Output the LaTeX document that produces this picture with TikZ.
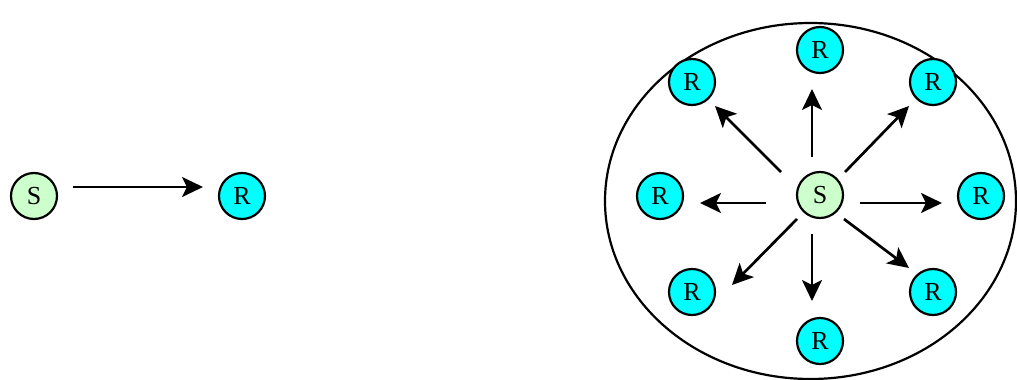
\documentclass[tikz,border=0pt]{standalone}
\usepackage{fontspec}
\setmainfont{Liberation Serif}
\usetikzlibrary{arrows.meta,shapes.geometric}
\definecolor{sgreen}{HTML}{CCFFCC}
\definecolor{rcyan}{HTML}{00FFFF}
\begin{document}
\begin{tikzpicture}[x=1pt,y=-1pt,
  station/.style={circle,draw=black,line width=2.2pt,minimum size=46pt,inner sep=0pt,font=\fontsize{26}{26}\selectfont},
  sender/.style={station,fill=sgreen},
  receiver/.style={station,fill=rcyan},
  link/.style={line width=2.7pt,-{Stealth[length=21pt,width=20pt,inset=5pt]}}]
\useasboundingbox (0,0) rectangle (1017,380);
% left pair
\node[sender] (S1) at (34,196) {S};
\node[receiver] (R1) at (242,196) {R};
\coordinate (a1) at (73,187);
\coordinate (b1) at (203,187);
\draw[link] (a1) -- (b1);
% broadcast
\node[draw,ellipse,line width=2.2pt,minimum width=411pt,minimum height=356pt,inner sep=0pt] (E) at (810.5,201) {};
\node[sender] (S) at (820,195) {S};
\node[receiver] (Rn) at (820,50) {R};
\node[receiver] (Rnw) at (692,82) {R};
\node[receiver] (Rne) at (933,82) {R};
\node[receiver] (Rw) at (660,196) {R};
\node[receiver] (Re) at (981,196) {R};
\node[receiver] (Rsw) at (692,292) {R};
\node[receiver] (Rse) at (933,292) {R};
\node[receiver] (Rs) at (820,341) {R};
% arrow ends
\coordinate (n0) at (812,157); \coordinate (n1) at (812,89);
\coordinate (nw0) at (781,172); \coordinate (nw1) at (715,106);
\coordinate (ne0) at (845,172); \coordinate (ne1) at (909,106);
\coordinate (w0) at (766,203); \coordinate (w1) at (700,203);
\coordinate (e0) at (860,203); \coordinate (e1) at (942,203);
\coordinate (sw0) at (797,219); \coordinate (sw1) at (732,285);
\coordinate (s0) at (812,234); \coordinate (s1) at (812,301);
\coordinate (se0) at (844,219); \coordinate (se1) at (909,268);
\foreach \d in {n,nw,ne,w,e,sw,s,se}
  \draw[link] (\d0) -- (\d1);
\end{tikzpicture}
\end{document}
